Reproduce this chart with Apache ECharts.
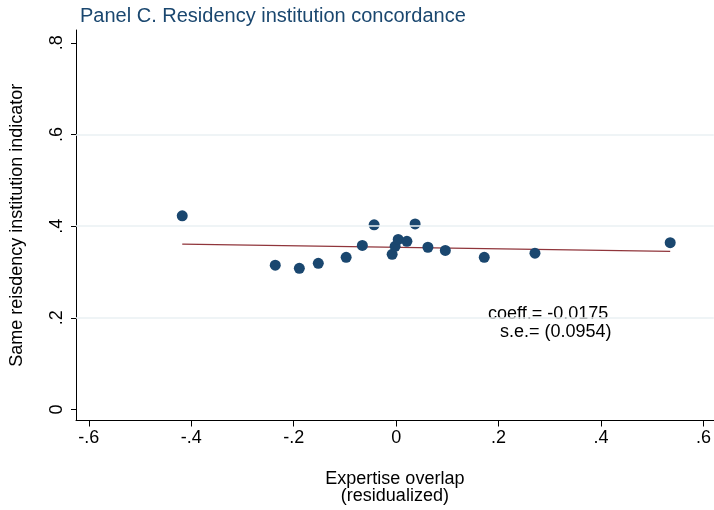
<!DOCTYPE html>
<html>
<head>
	<meta http-equiv="Content-Type" content="text/html;charset=utf-8">
	<script src="https://cdn.jsdelivr.net/npm/echarts@6/dist/echarts.min.js"></script>
	<title>Panel C</title>
	<style>
		html, body { margin: 0; padding: 0; background: #fff; }
		#main { width: 714px; height: 510px; }
	</style>
</head>
<body>
<div id="main"></div>
<script type="text/javascript">
	// binned scatter points (expertise overlap, same residency share)
	var pointX = [-0.4176, -0.236, -0.189, -0.152, -0.0976, -0.066, -0.043, -0.0078, -0.002, 0.004, 0.021, 0.037, 0.062, 0.096, 0.172, 0.271, 0.535];
	var pointY = [0.4226, 0.315, 0.308, 0.319, 0.332, 0.358, 0.403, 0.3385, 0.356, 0.371, 0.367, 0.405, 0.354, 0.347, 0.332, 0.341, 0.364];
	// fitted line end points
	var fitX = [-0.4176, 0.535];
	var fitY = [0.3608, 0.345];
	var xTicks = [-0.6, -0.4, -0.2, 0, 0.2, 0.4, 0.6];
	var yTicks = [0, 0.2, 0.4, 0.6, 0.8];
	var yGrid = [0.2, 0.4, 0.6];

	var font = '"Liberation Sans", Arial, sans-serif';
	function fmt(v) {
		if (v == 0) return '0';
		return String(v).replace('0.', '.');
	}

	var scatterData = pointX.map(function (x, i) { return [x, pointY[i]]; });
	var fitData = fitX.map(function (x, i) { return [x, fitY[i]]; });

	var myChart = echarts.init(document.getElementById('main'));
	var option = {
		animation: false,
		backgroundColor: '#fff',
		title: {
			text: 'Panel C. Residency institution concordance',
			left: 75,
			top: 1,
			textStyle: { fontFamily: font, fontSize: 20, fontWeight: 'normal', color: '#1a476f' }
		},
		grid: { left: 76, right: 0, top: 30, bottom: 84 },
		xAxis: {
			type: 'value',
			min: -0.625,
			max: 0.62,
			name: 'Expertise overlap\n(residualized)',
			nameLocation: 'middle',
			nameGap: 50,
			nameTextStyle: { fontFamily: font, fontSize: 18, color: '#000', lineHeight: 17 },
			axisLine: { onZero: false, lineStyle: { color: '#000', width: 1 } },
			axisTick: { customValues: xTicks, length: 6, lineStyle: { color: '#000' } },
			axisLabel: { customValues: xTicks, margin: 9, fontFamily: font, fontSize: 18, color: '#000', formatter: fmt },
			splitLine: { show: false }
		},
		yAxis: {
			type: 'value',
			min: -0.024,
			max: 0.828,
			name: 'Same reisdency institution indicator',
			nameLocation: 'middle',
			nameGap: 50,
			nameTextStyle: { fontFamily: font, fontSize: 18, color: '#000' },
			axisLine: { show: true, onZero: false, lineStyle: { color: '#000', width: 1 } },
			axisTick: { show: true, customValues: yTicks, length: 5, lineStyle: { color: '#000' } },
			axisLabel: { customValues: yTicks, rotate: 90, margin: 10, fontFamily: font, fontSize: 18, color: '#000', formatter: fmt },
			splitLine: { show: false }
		},
		series: [
			{
				name: 'grid',
				type: 'line',
				data: [],
				z: 1,
				silent: true,
				markLine: {
					silent: true,
					symbol: ['none', 'none'],
					label: { show: false },
					lineStyle: { type: 'solid', color: '#eaf1f3', width: 1.5 },
					data: yGrid.map(function (v) { return { yAxis: v }; })
				}
			},
			{
				name: 'fit',
				type: 'line',
				data: fitData,
				z: 2,
				showSymbol: false,
				lineStyle: { color: '#90353b', width: 1.3 }
			},
			{
				name: 'bins',
				type: 'scatter',
				data: scatterData,
				z: 3,
				symbolSize: 11,
				itemStyle: { color: '#1a476f', opacity: 1 }
			}
		],
		graphic: [
			{ type: 'text', left: 488, top: 305, style: { text: 'coeff.= -0.0175', font: '18px ' + font, fill: '#000' } },
			{ type: 'text', left: 500, top: 323, style: { text: 's.e.= (0.0954)', font: '18px ' + font, fill: '#000' } }
		]
	};
	myChart.setOption(option);
</script>
</body>
</html>
